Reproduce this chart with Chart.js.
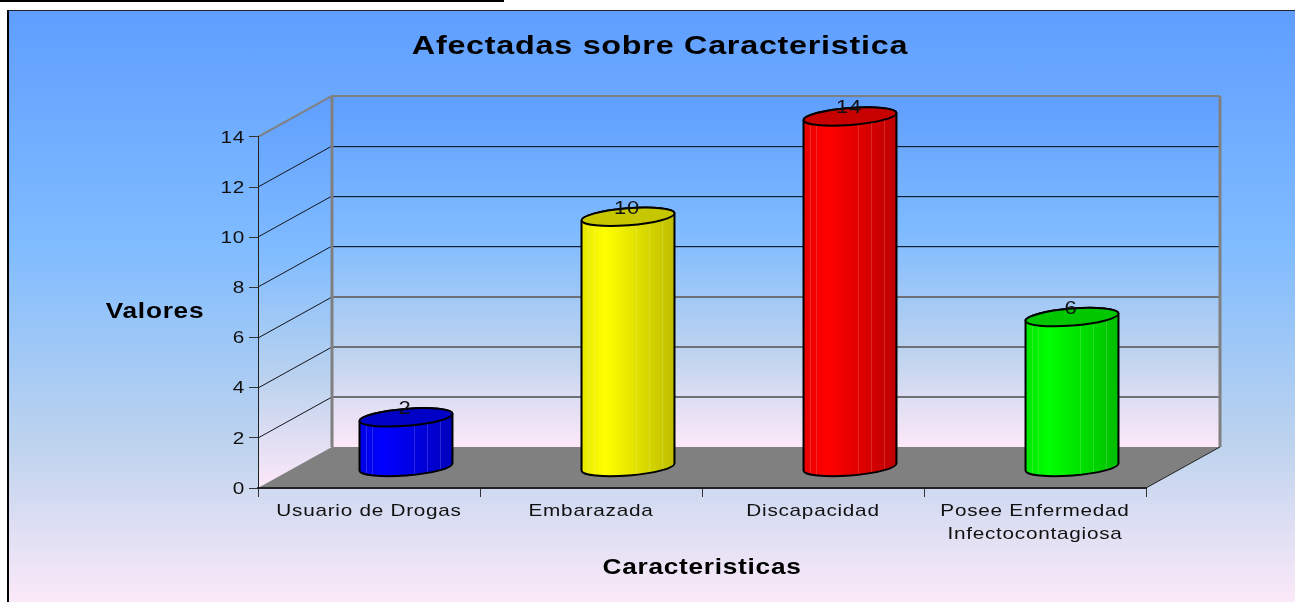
<!DOCTYPE html>
<html>
<head>
<meta charset="utf-8">
<title>Afectadas sobre Caracteristica</title>
<script src="https://cdn.jsdelivr.net/npm/chart.js@4"></script>
<style>
  html, body { margin: 0; padding: 0; background: #fff; overflow: hidden; }
  #topBar { position: absolute; left: 0; top: 0; width: 504px; height: 2px; background: #000; }
  #frame {
    position: absolute; left: 7px; top: 10px; width: 1288px; height: 592px; box-sizing: border-box;
    border-left: 2px solid #000; border-top: 1px solid #223;
    background: linear-gradient(#5f9eff 0%, #80bcff 40%, #bdd3ee 73%, #fbe9f8 100%);
  }
  #chart { position: absolute; left: 0; top: 0; }
</style>
</head>
<body>
<div id="topBar"></div>
<div id="frame"></div>
<canvas id="chart" width="1295" height="602"></canvas>
<script>
var titleText = 'Afectadas sobre Caracteristica';
var xTitle = 'Caracteristicas';
var yTitle = 'Valores';
var categories = ['Usuario de Drogas', 'Embarazada', 'Discapacidad', ['Posee Enfermedad', 'Infectocontagiosa']];
var values = [2, 10, 14, 6];
var barColors = ['#0000ff', '#ffff00', '#ff0000', '#00ff00'];
var yTicks = [0, 2, 4, 6, 8, 10, 12, 14];

var depthX = 74, depthY = 41;   // 3D offset of the back wall
var wallStops = [[0, '#5f9eff'], [0.4, '#80bcff'], [0.73, '#bdd3ee'], [1, '#fde8f8']];
var seams = [0.07, 0.13, 0.59, 0.73, 0.86];
var textStretch = 1.22;         // the original's text is wider than Liberation Sans

function wallGradient(ctx, top, bottom) {
  var g = ctx.createLinearGradient(0, top, 0, bottom);
  wallStops.forEach(function(s) { g.addColorStop(s[0], s[1]); });
  return g;
}

function poly(ctx, pts) {
  ctx.beginPath();
  pts.forEach(function(p, i) { if (i) ctx.lineTo(p[0], p[1]); else ctx.moveTo(p[0], p[1]); });
  ctx.closePath();
}

function line(ctx, x1, y1, x2, y2, color, width) {
  ctx.strokeStyle = color;
  ctx.lineWidth = width;
  ctx.beginPath();
  ctx.moveTo(x1, y1);
  ctx.lineTo(x2, y2);
  ctx.stroke();
}

function bodyPath(ctx, cx, topY, botY, rx, ry, rot) {
  ctx.beginPath();
  ctx.ellipse(cx, botY, rx, ry, rot, 0, Math.PI);
  ctx.ellipse(cx, topY, rx, ry, rot, Math.PI, 0);
  ctx.closePath();
}

/* ── Stretch every text drawn on this canvas ── */
var canvas = document.getElementById('chart');
var rawCtx = canvas.getContext('2d');
var plainFillText = rawCtx.fillText;
rawCtx.fillText = function(text, x, y) {
  this.save();
  this.translate(x, y + 1);
  this.scale(textStretch, 1);
  plainFillText.call(this, text, 0, 0);
  this.restore();
};

/* ── Walls, floor and depth gridlines ── */
var wallsPlugin = {
  id: 'walls',
  beforeDraw: function(chart) {
    var ctx = chart.ctx, a = chart.chartArea, y = chart.scales.y;
    ctx.letterSpacing = '0.6px';
    ctx.save();

    // side wall
    poly(ctx, [[a.left, a.top], [a.left + depthX, a.top - depthY], [a.left + depthX, a.bottom - depthY], [a.left, a.bottom]]);
    ctx.fillStyle = wallGradient(ctx, a.top - depthY, a.bottom);
    ctx.fill();

    // back wall
    ctx.fillStyle = wallGradient(ctx, a.top - depthY, a.bottom - depthY);
    ctx.fillRect(a.left + depthX, a.top - depthY, a.right - a.left, a.bottom - a.top);

    // gridlines run along both walls
    yTicks.forEach(function(v) {
      if (v === 0 || v === 14) return;
      var py = Math.round(y.getPixelForValue(v));
      var by = py - depthY;
      line(ctx, a.left, py, a.left + depthX, by, '#14141c', 1);
      if (v > 6) {
        line(ctx, a.left + depthX, by + 1.5, a.right + depthX, by + 1.5, 'rgba(90,110,140,0.45)', 1);
        line(ctx, a.left + depthX, by + 0.5, a.right + depthX, by + 0.5, '#0b1e3c', 1);
      } else {
        line(ctx, a.left + depthX, by, a.right + depthX, by, '#6e7078', 2);
      }
    });

    // frame of the back wall
    var top = a.top - depthY, bot = a.bottom - depthY;
    line(ctx, a.left, a.top, a.left + depthX, top, '#808080', 2);
    line(ctx, a.left + depthX, top, a.right + depthX, top, '#808080', 2);
    line(ctx, a.left + depthX, top, a.left + depthX, bot, '#808080', 3);
    line(ctx, a.right + depthX, top, a.right + depthX, bot, '#808080', 3);

    // floor
    poly(ctx, [[a.left, a.bottom], [a.right, a.bottom], [a.right + depthX, bot], [a.left + depthX, bot]]);
    ctx.fillStyle = '#808080';
    ctx.fill();
    line(ctx, a.right, a.bottom, a.right + depthX, bot, '#222', 1);
    ctx.restore();
  }
};

/* ── Cylinders on top of the (transparent) bar elements ── */
var cylinderPlugin = {
  id: 'cylinders',
  afterDatasetsDraw: function(chart) {
    var ctx = chart.ctx;
    var meta = chart.getDatasetMeta(0);
    var ry = 8.5, rot = -4.5 * Math.PI / 180;

    meta.data.forEach(function(bar, i) {
      var rx = bar.width / 2;
      var cx = bar.x + depthX / 2;
      var topY = bar.y - depthY / 2;
      var botY = bar.base - depthY / 2;
      var left = cx - rx;

      ctx.save();
      bodyPath(ctx, cx, topY, botY, rx, ry, rot);
      ctx.fillStyle = barColors[i];
      ctx.fill();

      ctx.save();
      ctx.clip();
      var shade = ctx.createLinearGradient(left, 0, left + bar.width, 0);
      shade.addColorStop(0, 'rgba(0,0,0,0.1)');
      shade.addColorStop(0.25, 'rgba(0,0,0,0)');
      shade.addColorStop(0.6, 'rgba(0,0,0,0.12)');
      shade.addColorStop(1, 'rgba(0,0,0,0.26)');
      ctx.fillStyle = shade;
      ctx.fillRect(left, topY - 20, bar.width, botY - topY + 40);
      seams.forEach(function(f) {
        var sx = Math.round(left + f * bar.width) + 0.5;
        line(ctx, sx, topY - 20, sx, botY + 20, 'rgba(255,255,255,0.16)', 1);
      });
      ctx.restore();

      bodyPath(ctx, cx, topY, botY, rx, ry, rot);
      ctx.strokeStyle = '#000';
      ctx.lineWidth = 2;
      ctx.stroke();

      // top cap
      ctx.beginPath();
      ctx.ellipse(cx, topY, rx, ry, rot, 0, Math.PI * 2);
      ctx.fillStyle = barColors[i];
      ctx.fill();
      ctx.fillStyle = 'rgba(0,0,0,0.22)';
      ctx.fill();
      ctx.stroke();

      // value label
      ctx.fillStyle = '#111';
      ctx.font = '18px "Liberation Sans", Arial, sans-serif';
      ctx.textAlign = 'center';
      ctx.textBaseline = 'middle';
      ctx.fillText(String(values[i]), cx - 1, topY - 9);
      ctx.restore();
    });

    // horizontal y axis title (Chart.js would rotate it)
    ctx.save();
    ctx.fillStyle = '#000';
    ctx.font = 'bold 21.5px "Liberation Sans", Arial, sans-serif';
    ctx.textAlign = 'center';
    ctx.textBaseline = 'middle';
    ctx.fillText(yTitle, 155, 311);
    ctx.restore();
  }
};

new Chart(canvas, {
  type: 'bar',
  data: {
    labels: categories,
    datasets: [{
      data: values,
      backgroundColor: 'transparent',
      borderWidth: 0,
      categoryPercentage: 1,
      barPercentage: 0.42
    }]
  },
  options: {
    responsive: false,
    animation: false,
    layout: { padding: { left: 174, right: 149, top: 20, bottom: 0 } },
    plugins: {
      legend: { display: false },
      tooltip: { enabled: false },
      title: {
        display: true,
        text: titleText,
        color: '#000',
        font: { family: '"Liberation Sans", Arial, sans-serif', size: 26.5, weight: 'bold', lineHeight: 1.177 },
        padding: { top: 10, bottom: 75.8 }
      }
    },
    scales: {
      x: {
        afterFit: function(s) { s.height = 114; },
        grid: { drawOnChartArea: false, tickLength: 9, tickColor: '#333' },
        border: { color: '#222', width: 2 },
        ticks: {
          color: '#111',
          padding: 2,
          maxRotation: 0,
          autoSkip: false,
          font: { family: '"Liberation Sans", Arial, sans-serif', size: 17, lineHeight: 1.35 }
        },
        title: {
          display: true,
          text: xTitle,
          color: '#000',
          font: { family: '"Liberation Sans", Arial, sans-serif', size: 21.5, weight: 'bold', lineHeight: 1.116 },
          padding: { top: 0, bottom: 23 }
        }
      },
      y: {
        min: 0,
        max: 14,
        afterFit: function(s) { s.width = 84; },
        afterBuildTicks: function(s) { s.ticks = yTicks.map(function(v) { return { value: v }; }); },
        grid: { drawOnChartArea: false, tickLength: 9, tickColor: '#333' },
        border: { color: '#222', width: 1 },
        ticks: {
          color: '#111',
          padding: 4,
          font: { family: '"Liberation Sans", Arial, sans-serif', size: 17 }
        }
      }
    }
  },
  plugins: [wallsPlugin, cylinderPlugin]
});
</script>
</body>
</html>
